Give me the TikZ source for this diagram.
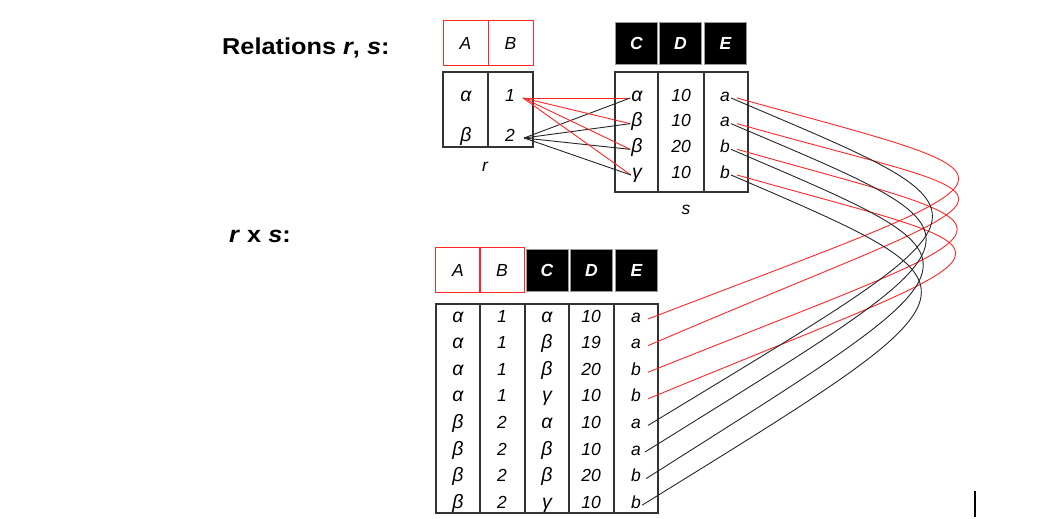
\documentclass[tikz,border=0pt]{standalone}
\usepackage{fontspec}
\setmainfont{Liberation Sans}
\newfontfamily\titlefont[FakeStretch=1.1]{Liberation Sans}
\newcommand{\gk}[1]{{\fontsize{19.5}{20}\selectfont #1}}
\begin{document}
\begin{tikzpicture}[x=1pt,y=-1pt,
  tbl/.style={draw=black!80,line width=1.3pt},
  redcell/.style={draw=red!85,line width=1pt,minimum width=45,minimum height=45,inner sep=0pt,font=\fontsize{17.5}{20}\selectfont\itshape},
  blkcell/.style={fill=black,draw=black!40,line width=0.8pt,minimum width=42,minimum height=42,inner sep=0pt,text=white,font=\fontsize{17.5}{20}\selectfont\bfseries\itshape},
  cell/.style={inner sep=1pt,text height=12.5,text depth=3.5,font=\fontsize{17.5}{20}\selectfont\itshape},
  title/.style={anchor=west,inner sep=0pt,font=\titlefont\fontsize{23}{26}\selectfont\bfseries},
  redln/.style={draw=red!85,line width=0.9pt},
  blkln/.style={draw=black!85,line width=0.9pt}]
\useasboundingbox (0,0) rectangle (1044,519);

% titles
\node[title] (t1) at (222,48) {Relations \textit{r}, \textit{s}:};
\node[title] (t2) at (229,236) {\textit{r} x \textit{s}:};

% ---- relation r
\node[redcell] (rA) at (465.5,43.5) {A};
\node[redcell] (rB) at (510.5,43.5) {B};
\draw[tbl] (443,72) rectangle (533,147);
\draw[tbl] (488,72) -- (488,147);
\node[cell] (rA1) at (466,96.5) {\gk{α}};
\node[cell] (rB1) at (510,96.5) {1};
\node[cell] (rA2) at (466,136.5) {\gk{β}};
\node[cell] (rB2) at (510,136.5) {2};
\node[cell] (rlab) at (485,167) {r};

% ---- relation s
\node[blkcell] (sC) at (636.5,43) {C};
\node[blkcell] (sD) at (680.5,43) {D};
\node[blkcell] (sE) at (725.5,43) {E};
\draw[tbl] (615,72) rectangle (748,192);
\draw[tbl] (658,72) -- (658,192);
\draw[tbl] (704,72) -- (704,192);
\foreach \i/\c/\d/\e in {1/α/10/a,2/β/10/a,3/β/20/b,4/γ/10/b}{
  \node[cell] (sC\i) at (637,{96.5+(\i-1)*25.67}) {\gk{\c}};
  \node[cell] (sD\i) at (681,{96.5+(\i-1)*25.67}) {\d};
  \node[cell] (sE\i) at (725,{96.5+(\i-1)*25.67}) {\e};
}
\node[cell] (slab) at (686,210) {s};

% ---- r x s
\node[redcell] (xA) at (458,270) {A};
\node[redcell] (xB) at (502,270) {B};
\node[blkcell] (xC) at (547,270) {C};
\node[blkcell] (xD) at (591.5,270) {D};
\node[blkcell] (xE) at (636.5,270) {E};
\draw[tbl] (436,304) rectangle (658,513);
\foreach \x in {480,525,569,614} \draw[tbl] (\x,304) -- (\x,513);
\foreach \i/\a/\b/\c/\d/\e in {1/α/1/α/10/a,2/α/1/β/19/a,3/α/1/β/20/b,4/α/1/γ/10/b,
  5/β/2/α/10/a,6/β/2/β/10/a,7/β/2/β/20/b,8/β/2/γ/10/b}{
  \node[cell] (xA\i) at (458,{317.5+(\i-1)*26.6}) {\gk{\a}};
  \node[cell] (xB\i) at (502,{317.5+(\i-1)*26.6}) {\b};
  \node[cell] (xC\i) at (547,{317.5+(\i-1)*26.6}) {\gk{\c}};
  \node[cell] (xD\i) at (591,{317.5+(\i-1)*26.6}) {\d};
  \node[cell] (xE\i) at (636,{317.5+(\i-1)*26.6}) {\e};
}

% ---- connectors r -> s
\foreach \i in {1,...,4}{
  \draw[redln] ([xshift=7,yshift=-1.5]rB1.east) -- ([yshift=-1.5]sC\i.west);
  \draw[blkln] ([xshift=8,yshift=-1.5]rB2.east) -- ([yshift=-1.5]sC\i.west);
}

% ---- curves s -> r x s
\draw[redln] ([xshift=6,yshift=-1.5]sE1.east) .. controls (1046,184) and (1046,166) .. ([xshift=6,yshift=-1.5]xE1.east);
\draw[redln] ([xshift=6,yshift=-1.5]sE2.east) .. controls (1046,211) and (1046,175) .. ([xshift=6,yshift=-1.5]xE2.east);
\draw[redln] ([xshift=6,yshift=-1.5]sE3.east) .. controls (1044,236) and (1044,214) .. ([xshift=6,yshift=-1.5]xE3.east);
\draw[redln] ([xshift=6,yshift=-1.5]sE4.east) .. controls (1042,261) and (1042,236) .. ([xshift=6,yshift=-1.5]xE4.east);
\draw[blkln] ([yshift=-1.5]sE1.east) .. controls (1012,218) and (1012,204) .. ([xshift=6,yshift=-1.5]xE5.east);
\draw[blkln] ([yshift=-1.5]sE2.east) .. controls (1004,240) and (1004,228) .. ([xshift=3,yshift=-1.5]xE6.east);
\draw[blkln] ([yshift=-1.5]sE3.east) .. controls (1000,265) and (1000,254) .. ([xshift=4,yshift=-1.5]xE7.east);
\draw[blkln] ([yshift=-1.5]sE4.east) .. controls (998,290) and (998,285) .. ([yshift=-1.5]xE8.east);

% stray mark
\coordinate (m1) at (975,491);
\coordinate (m2) at (975,517);
\draw[line width=1.5pt] (m1) -- (m2);
\end{tikzpicture}
\end{document}
